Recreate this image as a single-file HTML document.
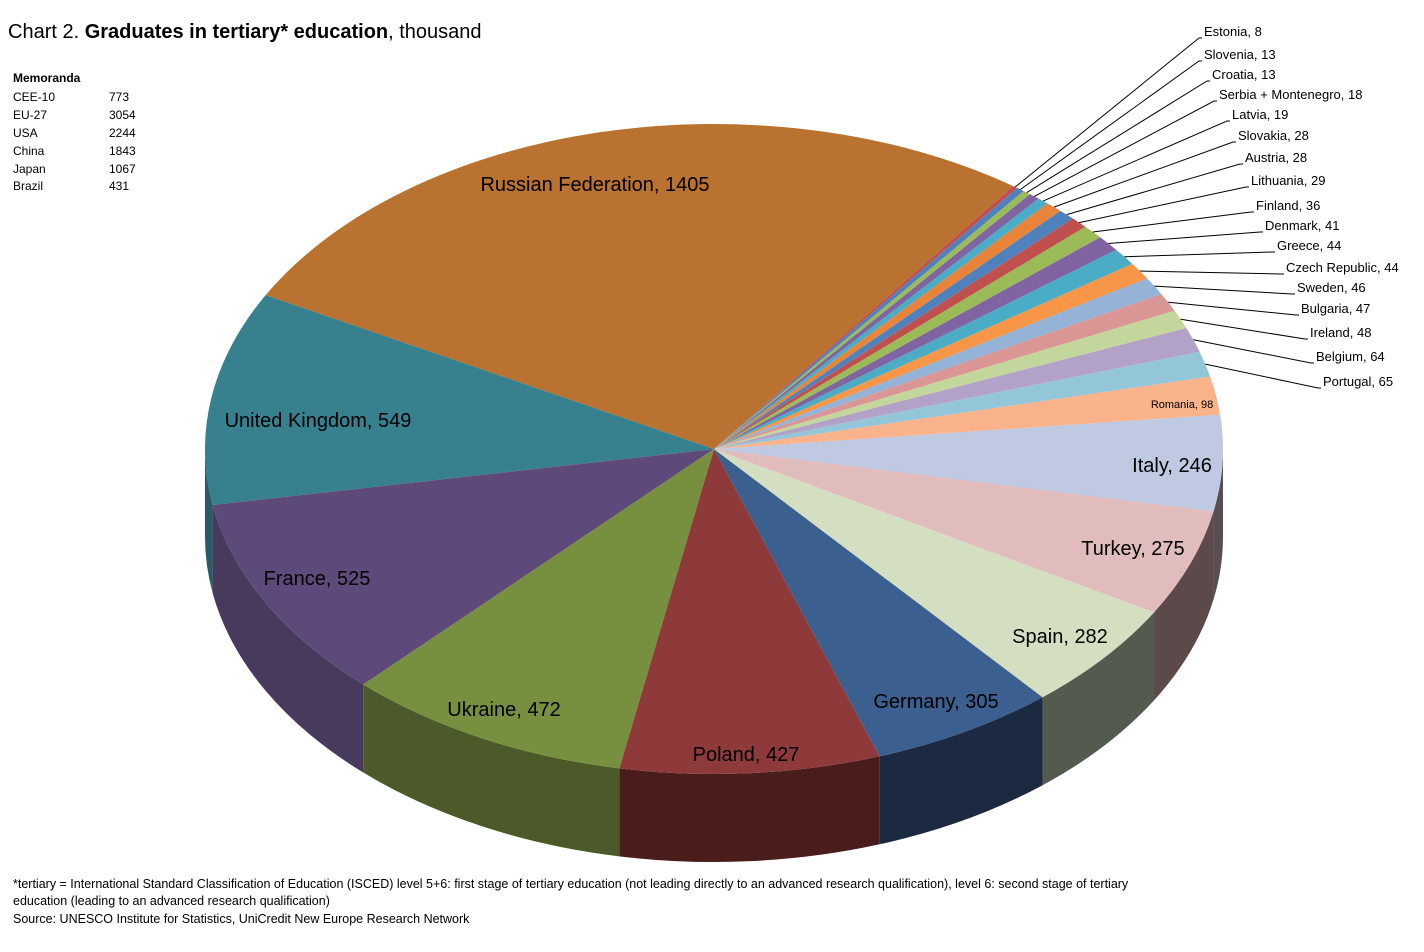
<!DOCTYPE html>
<html><head><meta charset="utf-8"><style>
body{margin:0;background:#fff;}
svg{display:block;font-family:"Liberation Sans",sans-serif;}
</style></head><body>
<svg id="s" width="1424" height="952" viewBox="0 0 1424 952" xmlns="http://www.w3.org/2000/svg">
<text x="8" y="38" font-size="20" fill="#000">Chart 2. <tspan font-weight="bold">Graduates in tertiary* education</tspan>, thousand</text>
<g font-size="12" fill="#000">
<text x="13" y="82" font-weight="bold">Memoranda</text>
<text x="13" y="101">CEE-10</text><text x="109" y="101">773</text>
<text x="13" y="119">EU-27</text><text x="109" y="119">3054</text>
<text x="13" y="137">USA</text><text x="109" y="137">2244</text>
<text x="13" y="155">China</text><text x="109" y="155">1843</text>
<text x="13" y="173">Japan</text><text x="109" y="173">1067</text>
<text x="13" y="190">Brazil</text><text x="109" y="190">431</text>
</g>
<g font-size="12.5" fill="#000">
<text x="13" y="888">*tertiary = International Standard Classification of Education (ISCED) level 5+6: first stage of tertiary education (not leading directly to an advanced research qualification), level 6: second stage of tertiary</text>
<text x="13" y="905">education (leading to an advanced research qualification)</text>
<text x="13" y="923">Source: UNESCO Institute for Statistics, UniCredit New Europe Research Network</text>
</g>
<g id="pie"></g>
</svg>
<script>
var d=[["Russian Federation",1405,"#b9722f"],["United Kingdom",549,"#37818f","#2a5a64"],["France",525,"#5e4a7a","#473a5c"],["Ukraine",472,"#77903f","#4b5a28"],["Poland",427,"#8e3a3a","#4a1c1c"],["Germany",305,"#3b5f8f","#1b2a40"],["Spain",282,"#d3dfc0","#535a4e"],["Turkey",275,"#e0bcbc","#5c4a4a"],["Italy",246,"#bfcae2","#5a4e55"],["Romania",98,"#fab38b"],["Portugal",65,"#93c6d8"],["Belgium",64,"#b3a2c7"],["Ireland",48,"#c3d69b"],["Bulgaria",47,"#d99694"],["Sweden",46,"#95b3d7"],["Czech Republic",44,"#f79646"],["Greece",44,"#4bacc6"],["Denmark",41,"#8064a2"],["Finland",36,"#9bbb59"],["Lithuania",29,"#c0504d"],["Austria",28,"#4f81bd"],["Slovakia",28,"#e8843a"],["Latvia",19,"#4bacc6"],["Serbia + Montenegro",18,"#8064a2"],["Croatia",13,"#9bbb59"],["Slovenia",13,"#4f81bd"],["Estonia",8,"#c0504d"]];
var cx=714,cy=449,rx=509,ry=325,D=88,tot=0;d.forEach(function(a){tot+=a[1]});
function P(t,dz){var r=t*Math.PI/180;return [cx+rx*Math.cos(r),cy-ry*Math.sin(r)+(dz||0)];}
var s="",tops="",t=54,ang=[];
d.forEach(function(a){var b=t+a[1]/tot*360;ang.push([t,b]);
 var lo=Math.max(t,180),hi=Math.min(b,360);
 if(hi>lo){var p1=P(lo),p2=P(hi),q1=P(lo,D),q2=P(hi,D);
  s+='<path d="M'+p1+' A'+rx+' '+ry+' 0 0 0 '+p2+' L'+q2+' A'+rx+' '+ry+' 0 0 1 '+q1+' Z" fill="'+(a[3]||"#444")+'"/>';}
 var p1=P(t),p2=P(b);
 tops+='<path d="M'+cx+','+cy+' L'+p1+' A'+rx+' '+ry+' 0 '+((b-t)>180?1:0)+' 0 '+p2+' Z" fill="'+a[2]+'"/>';
 t=b;});
var big={"Russian Federation":[595,184],"United Kingdom":[318,420],"France":[317,578],"Ukraine":[504,709],"Poland":[746,754],"Germany":[936,701],"Spain":[1060,636],"Turkey":[1133,548],"Italy":[1172,465]};
var small={"Estonia":[1204,31],"Slovenia":[1204,54],"Croatia":[1212,74],"Serbia + Montenegro":[1219,94],"Latvia":[1232,114],"Slovakia":[1238,135],"Austria":[1245,157],"Lithuania":[1251,180],"Finland":[1256,205],"Denmark":[1265,225],"Greece":[1277,245],"Czech Republic":[1286,267],"Sweden":[1297,287],"Bulgaria":[1301,308],"Ireland":[1310,332],"Belgium":[1316,356],"Portugal":[1323,381]};
var lab="";
d.forEach(function(a,i){var nm=a[0],txt=nm+", "+a[1];
 if(big[nm])lab+='<text x="'+big[nm][0]+'" y="'+(big[nm][1]+7)+'" font-size="20" text-anchor="middle">'+txt+'</text>';
 else if(nm=="Romania")lab+='<text x="1182" y="408" font-size="11" text-anchor="middle">'+txt+'</text>';
 else if(small[nm]){var m=(ang[i][0]+ang[i][1])/2,p=P(m),L=small[nm];
  lab+='<polyline points="'+p+' '+(L[0]-5)+','+(L[1]+7)+' '+(L[0]-2)+','+(L[1]+7)+'" fill="none" stroke="#000" stroke-width="1"/>';
  lab+='<text x="'+L[0]+'" y="'+(L[1]+5)+'" font-size="13">'+txt+'</text>';}
});
document.getElementById("pie").innerHTML=s+tops+lab;
</script>
</body></html>
